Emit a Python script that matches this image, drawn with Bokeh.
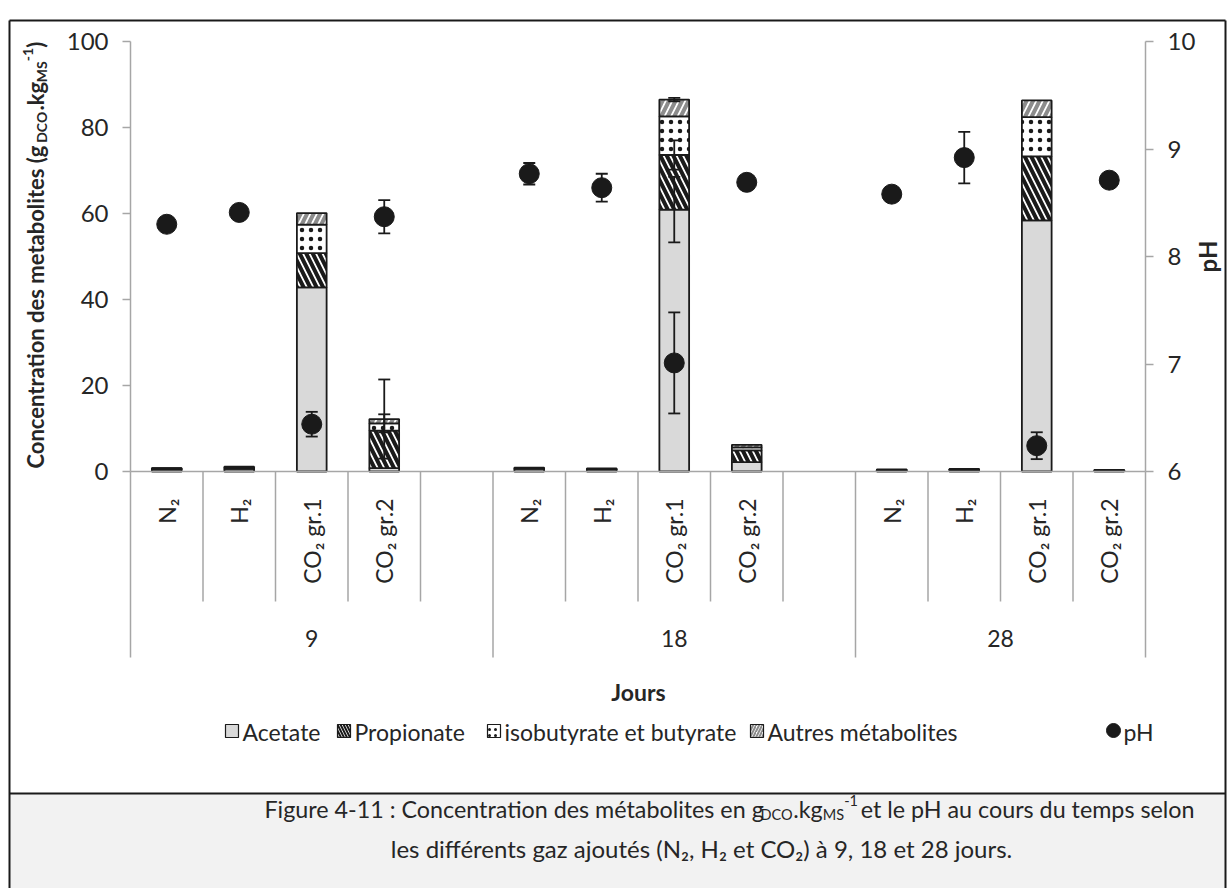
import numpy as np
from bokeh.plotting import figure
from bokeh.models import Range1d, LinearAxis, FixedTicker, CustomJSTickFormatter
from bokeh.core.properties import value
from bokeh.embed import file_html
from bokeh.resources import INLINE

# ---------------- data ----------------
days = ["9", "18", "28"]
gases = ["N₂", "H₂", "CO₂ gr.1", "CO₂ gr.2"]
series_names = ["Acetate", "Propionate", "isobutyrate et butyrate", "Autres métabolites", "pH"]

acetate     = [0.5, 0.6, 42.8, 0.8, 0.6, 0.5, 60.9, 2.2, 0.3, 0.4, 58.4, 0.3]
propionate  = [0.2, 0.3, 8.0, 8.7, 0.2, 0.1, 12.7, 2.7, 0.1, 0.1, 14.9, 0.1]
isobutyrate = [0.0, 0.0, 6.6, 1.7, 0.0, 0.0, 9.0, 0.7, 0.0, 0.0, 9.1, 0.0]
autres      = [0.1, 0.2, 2.7, 1.0, 0.1, 0.1, 3.9, 0.6, 0.1, 0.1, 3.9, 0.0]

acetate_err     = [0, 0, 0, 0, 0, 0, 7.6, 0, 0, 0, 0, 0]
propionate_err  = [0, 0, 0, 0, 0, 0, 3.4, 0, 0, 0, 0, 0]
isobutyrate_err = [0, 0, 0, 2.1, 0, 0, 0, 0, 0, 0, 0, 0]
autres_err      = [0, 0, 0, 9.2, 0, 0, 0.4, 0, 0, 0, 0, 0]

ph     = [8.30, 8.41, 6.44, 8.37, 8.77, 8.64, 7.01, 8.69, 8.58, 8.92, 6.24, 8.71]
ph_err = [0.03, 0.03, 0.115, 0.155, 0.10, 0.13, 0.47, 0.04, 0.03, 0.24, 0.125, 0.04]

left_ticks = [0, 20, 40, 60, 80, 100]
right_ticks = [6, 7, 8, 9, 10]

# ---------------- layout helpers (page pixel -> data) ----------------
W, H = 1231, 888
PX0, PY0 = 130.0, 471.0
SLOT, UNIT = 72.5, 4.3


def X(px):
    return (px - PX0) / SLOT


def Y(py):
    return (PY0 - py) / UNIT


FONT = "Lato"
TXT = "#262626"
GREY = "#a6a6a6"
DARK = "#1a1a1a"

CW = {' ': 0.2, '.': 0.23, ',': 0.23, ':': 0.25, '-': 0.35, '(': 0.31, ')': 0.31,
      'a': 0.49, 'b': 0.55, 'c': 0.46, 'd': 0.55, 'e': 0.51, 'é': 0.51, 'f': 0.32,
      'g': 0.5, 'h': 0.55, 'i': 0.24, 'k': 0.5, 'l': 0.24, 'm': 0.82, 'n': 0.55,
      'o': 0.55, 'p': 0.55, 'r': 0.36, 's': 0.42, 't': 0.35, 'u': 0.55,
      'C': 0.67, 'D': 0.74, 'F': 0.54, 'H': 0.75, 'M': 0.9, 'O': 0.78, 'S': 0.53}


def tw(s, size, bold=False):
    return sum(CW.get(c, 0.56) for c in s) * size * (1.05 if bold else 1.03)


# ---------------- figure ----------------
p = figure(width=W, height=H, x_range=Range1d(X(0), X(W)), y_range=Range1d(Y(H), Y(0)),
           x_axis_location=None, y_axis_location=None, toolbar_location=None,
           output_backend="svg", min_border=0, outline_line_color=None)
p.grid.visible = False
p.background_fill_color = "white"
p.border_fill_color = "white"
p.extra_y_ranges = {"ph": Range1d(6 + Y(H) / 25.0, 6 + Y(0) / 25.0)}

# frame / caption box
p.quad(left=[X(9)], right=[X(1225)], bottom=[Y(900)], top=[Y(793)],
       fill_color="#f2f2f2", line_color=None)
p.segment(x0=[X(9), X(9), X(9), X(1225)], y0=[Y(20), Y(20), Y(793), Y(20)],
          x1=[X(1225), X(9), X(1225), X(1225)], y1=[Y(20), Y(900), Y(793), Y(900)],
          line_color=DARK, line_width=2)

# slot positions
x_pos = [d * 5 + g + 0.5 for d in range(len(days)) for g in range(len(gases))]
edges_minor = [1, 2, 3, 4, 6, 7, 8, 9, 11, 12, 13]
edges_group = [0, 5, 10, 14]
group_pos = [2.5, 7.5, 12.0]


# axes
def style(ax):
    ax.axis_line_color = GREY
    ax.axis_line_width = 1.5
    ax.major_tick_line_color = GREY
    ax.major_tick_line_width = 1.5
    ax.minor_tick_line_color = None
    ax.major_label_text_font = FONT
    ax.major_label_text_color = TXT
    ax.major_label_text_font_size = "24px"
    ax.major_tick_in = 0
    ax.minor_tick_in = 0
    ax.minor_tick_out = 0


yl = LinearAxis(fixed_location=0, bounds=(0, 100), ticker=FixedTicker(ticks=left_ticks))
style(yl)
yl.major_tick_out = 8
yl.major_label_standoff = 14
p.add_layout(yl, "left")

yr = LinearAxis(y_range_name="ph", fixed_location=14, bounds=(6, 10), ticker=FixedTicker(ticks=right_ticks))
style(yr)
yr.major_tick_out = 8
yr.major_label_standoff = 14
p.add_layout(yr, "right")

# category axis: baseline + group labels (days)
fmt_g = CustomJSTickFormatter(args=dict(tpos=group_pos, tlab=days), code="""
const i = tpos.findIndex(t => Math.abs(t - tick) < 1e-6);
return i >= 0 ? tlab[i] : "";
""")
xg = LinearAxis(fixed_location=0, bounds=(0, 14), ticker=FixedTicker(ticks=group_pos), formatter=fmt_g)
style(xg)
xg.major_tick_out = 0
xg.major_tick_line_color = None
xg.major_label_standoff = 158
xg.major_label_text_font_size = "23px"
p.add_layout(xg, "below")

# table separators
p.segment(x0=edges_minor, y0=[0] * len(edges_minor), x1=edges_minor, y1=[Y(601)] * len(edges_minor),
          line_color=GREY, line_width=1.5)
p.segment(x0=edges_group, y0=[0] * 4, x1=edges_group, y1=[Y(657)] * 4, line_color=GREY, line_width=1.5)

# ---------------- stacked bars ----------------
series = [acetate, propionate, isobutyrate, autres]
errs = [acetate_err, propionate_err, isobutyrate_err, autres_err]
styles = [
    dict(fill_color="#d9d9d9"),
    dict(fill_color="white", hatch_pattern="left_diagonal_line", hatch_color=DARK, hatch_scale=13, hatch_weight=4),
    dict(fill_color="white", hatch_pattern="dot", hatch_color=DARK, hatch_scale=9, hatch_weight=1),
    dict(fill_color="white", hatch_pattern="right_diagonal_line", hatch_color="#8c8c8c", hatch_scale=13, hatch_weight=4),
]
bottom = np.zeros(len(x_pos))
tops_all = []
for vals, st in zip(series, styles):
    top = bottom + np.array(vals)
    p.vbar(x=x_pos, width=0.41, bottom=bottom, top=top, line_color=DARK, line_width=1.8, **st)
    tops_all.append(top)
    bottom = top

# bar error bars
for top, e in zip(tops_all, errs):
    idx = [i for i, v in enumerate(e) if v > 0]
    if not idx:
        continue
    xs = [x_pos[i] for i in idx]
    lo = [top[i] - e[i] for i in idx]
    hi = [top[i] + e[i] for i in idx]
    p.segment(x0=xs, y0=lo, x1=xs, y1=hi, line_color=DARK, line_width=1.8)
    p.scatter(x=xs + xs, y=lo + hi, marker="dash", size=12, line_color=DARK, line_width=1.8)

# pH error bars + points
ph_lo = [v - e for v, e in zip(ph, ph_err)]
ph_hi = [v + e for v, e in zip(ph, ph_err)]
p.segment(x0=x_pos, y0=ph_lo, x1=x_pos, y1=ph_hi, line_color=DARK, line_width=1.8, y_range_name="ph")
p.scatter(x=x_pos + x_pos, y=ph_lo + ph_hi, marker="dash", size=12, line_color=DARK, line_width=1.8,
          y_range_name="ph")
p.scatter(x=x_pos, y=ph, marker="circle", size=20, fill_color=DARK, line_color=DARK, y_range_name="ph")


# ---------------- texts ----------------
def add_text(px, py, s, size, bold=False, align="left", baseline="middle", angle=0.0):
    p.text(x=[X(px)], y=[Y(py)], text=[s], text_font=value(FONT), text_font_size=value(f"{size}px"),
           text_font_style="bold" if bold else "normal", text_align=align, text_baseline=baseline,
           angle=angle, text_color=TXT)


# category labels (rotated, reading upward, ending just below the axis)
p.text(x=x_pos, y=[Y(498)] * len(x_pos), text=gases * len(days), text_font=value(FONT),
       text_font_size=value("23px"), text_align="right", text_baseline="middle",
       angle=np.pi / 2, text_color=TXT)

# left axis title with sub/superscripts (rotated)
ytitle = [("Concentration des metabolites (g", 22, 0), ("DCO", 14, 6), (".kg", 22, 0),
          ("MS", 14, 6), ("-1", 14, -8), (")", 22, 0)]
cur = 468
for s, sz, dx in ytitle:
    add_text(35 + dx, cur, s, sz, bold=True, angle=np.pi / 2)
    cur -= tw(s, sz, bold=True)

add_text(1207, 256, "pH", 24, bold=True, align="center", angle=np.pi / 2)
add_text(638, 691, "Jours", 23, bold=True, align="center")

# legend
leg_x = [225, 337, 487, 750]
for lx, st, name in zip(leg_x, styles, series_names[:4]):
    st2 = dict(st)
    if "hatch_scale" in st2:
        st2["hatch_scale"] = 6
        st2["hatch_weight"] = 2 if st2["hatch_pattern"] != "dot" else 1
    p.quad(left=[X(lx)], right=[X(lx + 13)], bottom=[Y(737)], top=[Y(724)], line_color=DARK, line_width=1.2, **st2)
    add_text(lx + 17, 731, name, 23)
p.scatter(x=[X(1113)], y=[Y(730)], marker="circle", size=14, fill_color=DARK, line_color=DARK)
add_text(1123, 731, series_names[4], 23)

# caption line 1 (with sub/superscripts)
cap1 = [("Figure 4-11 : Concentration des métabolites en g", 23.3, 0, 1), ("DCO", 14.5, 6, 0),
        (".kg", 23.3, 0, 0), ("MS", 14.5, 6, 0), ("-1", 14.5, -8, 3),
        (" et le pH au cours du temps selon", 23.3, 0, 0)]
total = sum(tw(s, sz) + gap for s, sz, _, gap in cap1)
cx = 729 - total / 2
for s, sz, dy, gap in cap1:
    add_text(cx, 808 + dy, s, sz)
    cx += tw(s, sz) + gap
add_text(701, 848, "les différents gaz ajoutés (N₂, H₂ et CO₂) à 9, 18 et 28 jours.", 24, align="center")

open("out.html", "w").write(file_html(p, INLINE))
